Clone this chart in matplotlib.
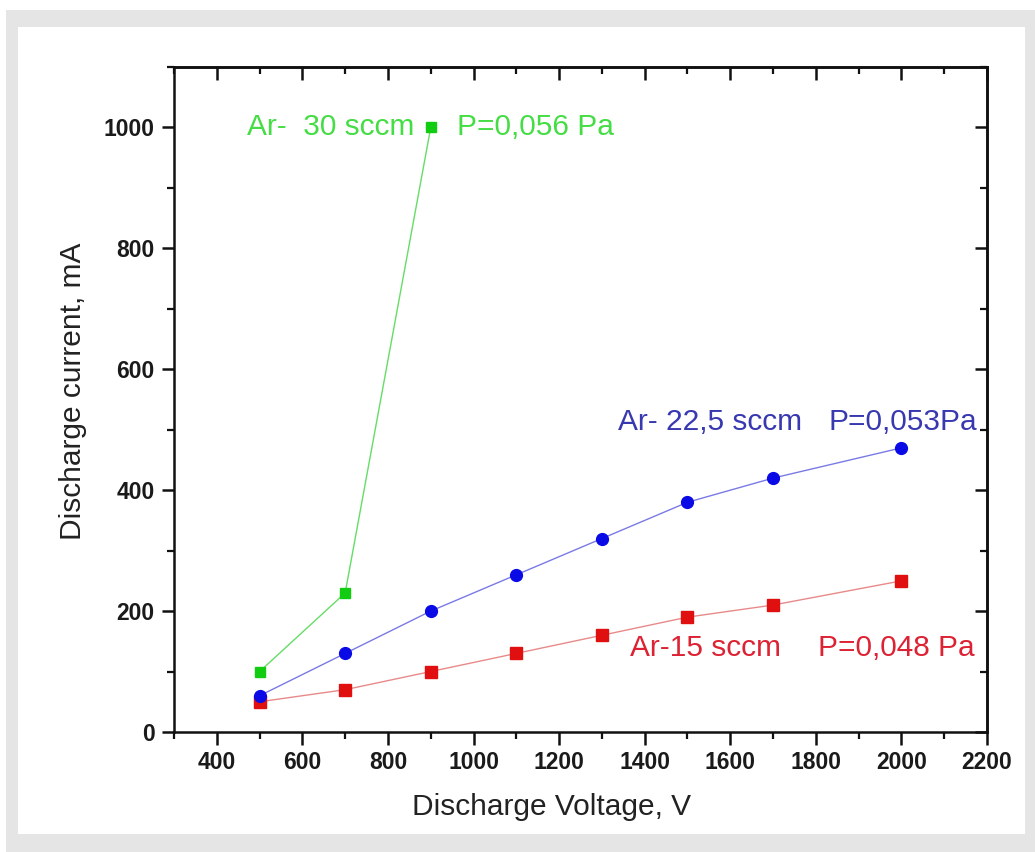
import matplotlib
matplotlib.use("Agg")
import matplotlib.pyplot as plt
from matplotlib.patches import Rectangle
from matplotlib.ticker import MultipleLocator

plt.rcParams['font.family'] = ['Liberation Sans', 'DejaVu Sans']

# ---- data ----
v_30 = [500, 700, 900]
i_30 = [100, 230, 1000]

v_22 = [500, 700, 900, 1100, 1300, 1500, 1700, 2000]
i_22 = [60, 130, 200, 260, 320, 380, 420, 470]

v_15 = [500, 700, 900, 1100, 1300, 1500, 1700, 2000]
i_15 = [50, 70, 100, 130, 160, 190, 210, 250]

x_major = [400, 600, 800, 1000, 1200, 1400, 1600, 1800, 2000, 2200]
y_major = [0, 200, 400, 600, 800, 1000]

W, H = 1035, 852
fig = plt.figure(figsize=(W / 100, H / 100), dpi=100)
fig.patch.set_facecolor('white')

# outer gray frame and inner white panel
fig.patches.append(Rectangle((6 / W, 0), 1 - 6 / W, 1 - 10 / H, transform=fig.transFigure,
                             facecolor='#e5e5e5', edgecolor='none', zorder=-2))
fig.patches.append(Rectangle((18 / W, 1 - 834 / H), (1025 - 18) / W, (834 - 27) / H,
                             transform=fig.transFigure, facecolor='white', edgecolor='none', zorder=-1))

ax = fig.add_axes([174 / W, 1 - 732 / H, 813 / W, 665 / H])
ax.set_facecolor('white')

ax.plot(v_15, i_15, '-', color='#e88a8a', lw=1.0, zorder=2)
ax.plot(v_15, i_15, 's', color='#e01010', ms=8, mec='#e01010', zorder=3, linestyle='none')
ax.plot(v_22, i_22, '-', color='#7a7ae6', lw=1.0, zorder=2)
ax.plot(v_22, i_22, 'o', color='#0a0ae6', ms=8.5, zorder=3, linestyle='none')
ax.plot(v_30, i_30, '-', color='#66dd66', lw=1.0, zorder=2)
ax.plot(v_30, i_30, 's', color='#11cc11', ms=7, zorder=3, linestyle='none')

fs = 21.5
ax.text(470, 988, 'Ar-  30 sccm', color='#44dd44', fontsize=fs, va='baseline', ha='left')
ax.text(961, 988, 'P=0,056 Pa', color='#44dd44', fontsize=fs, va='baseline', ha='left')
ax.text(1338, 499, 'Ar- 22,5 sccm', color='#3838b0', fontsize=fs, va='baseline', ha='left')
ax.text(1829, 499, 'P=0,053Pa', color='#3838b0', fontsize=fs, va='baseline', ha='left')
ax.text(1366, 126, 'Ar-15 sccm', color='#dd2233', fontsize=fs, va='baseline', ha='left')
ax.text(1805, 126, 'P=0,048 Pa', color='#dd2233', fontsize=fs, va='baseline', ha='left')

ax.set_xlim(300, 2200)
ax.set_ylim(0, 1100)
ax.set_xticks(x_major)
ax.set_yticks(y_major)
ax.xaxis.set_minor_locator(MultipleLocator(100))
ax.yaxis.set_minor_locator(MultipleLocator(100))

for s in ax.spines.values():
    s.set_linewidth(1.8)
    s.set_color('#111111')

ax.tick_params(which='major', direction='out', length=9, width=1.8, labelsize=16.5,
               colors='#111111', pad=5)
ax.tick_params(which='minor', direction='out', length=5, width=1.6, colors='#111111')
for lab in ax.get_xticklabels() + ax.get_yticklabels():
    lab.set_fontweight('bold')
    lab.set_color('#1a1a1a')

# mirrored inward ticks on top and right
top = ax.secondary_xaxis('top')
top.set_xticks(x_major)
top.xaxis.set_minor_locator(MultipleLocator(100))
top.tick_params(which='major', direction='in', length=9, width=1.8, labeltop=False, colors='#111111')
top.tick_params(which='minor', direction='in', length=5, width=1.6, colors='#111111')
top.spines['top'].set_linewidth(1.8)

right = ax.secondary_yaxis('right')
right.set_yticks(y_major)
right.yaxis.set_minor_locator(MultipleLocator(100))
right.tick_params(which='major', direction='in', length=9, width=1.8, labelright=False, colors='#111111')
right.tick_params(which='minor', direction='in', length=5, width=1.6, colors='#111111')
right.spines['right'].set_linewidth(1.8)

ax.set_xlabel('Discharge Voltage, V', fontsize=21.5, color='#222222', va='center', ha='center')
ax.xaxis.set_label_coords((551 - 174) / 813, (732 - 807) / 665)
ax.set_ylabel('Discharge current, mA', fontsize=21.5, color='#222222', va='center', ha='center')
ax.yaxis.set_label_coords((73 - 174) / 813, (732 - 391) / 665)

fig.savefig('out.png', dpi=100)
